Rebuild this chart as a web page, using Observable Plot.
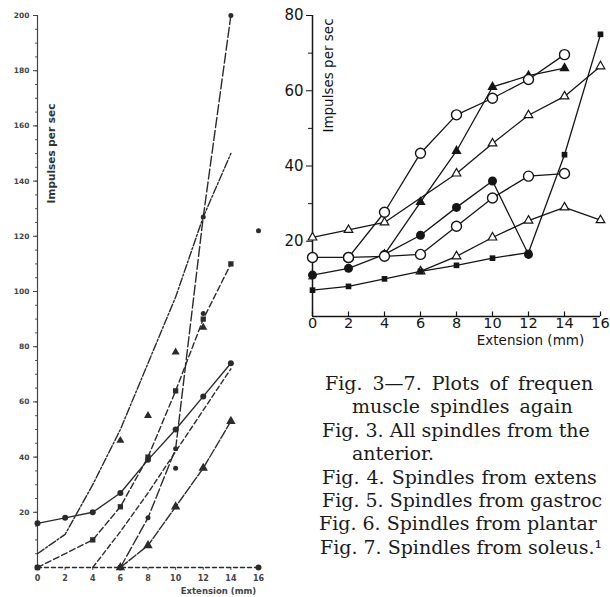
<!DOCTYPE html>
<html><head><meta charset="utf-8">
<script src="https://cdn.jsdelivr.net/npm/d3@7"></script>
<script src="https://cdn.jsdelivr.net/npm/@observablehq/plot@0.6"></script>
<style>
html,body{margin:0;padding:0;background:#fff;width:610px;height:597px;overflow:hidden;}
#left{position:absolute;left:0;top:0;width:280px;height:597px;}
#right{position:absolute;left:280px;top:0;width:330px;height:352px;}
#caption{position:absolute;left:319px;top:372px;font-family:"DejaVu Serif",serif;font-size:19px;line-height:23.4px;color:#1b1b1b;white-space:nowrap;}
#caption div{white-space:nowrap;}
</style></head><body>
<div id="left"></div><div id="right"></div>
<div id="caption"></div>
<script>
// ---------- Fig. 3 (left panel): extension (mm) vs impulses per sec ----------
const f3aX = [0, 2, 4, 6, 8, 10, 12, 14];
const f3aY = [16, 18, 20, 27, 39, 50, 62, 74];
const f3bX = [0, 4, 6, 8, 10, 12, 14];
const f3bY = [0, 10, 22, 40, 64, 90, 110];
const f3cX = [0, 2, 4, 6, 8, 10, 12, 14];
const f3cY = [5, 12, 30, 50, 74, 98, 127, 150];
const f3dX = [6, 8, 10, 12, 14];
const f3dY = [0, 18, 43, 127, 200];
const f3eX = [6, 8, 10, 12, 14];
const f3eY = [0, 8, 22, 36, 53];
const f3fX = [4, 6, 8, 10, 12, 14];
const f3fY = [0, 13, 27, 42, 57, 72];
const f3gX = [0, 6, 16];
const f3gY = [0, 0, 0];
const f3TriX = [6, 8, 10, 12];
const f3TriY = [46, 55, 78, 87];
const f3DotX = [10, 12, 16];
const f3DotY = [36, 92, 122];
const f3YTicks = [20, 40, 60, 80, 100, 120, 140, 160, 180, 200];
const f3YMinor = d3.range(0, 201, 5);
const f3XTicks = [0, 2, 4, 6, 8, 10, 12, 14, 16];

// ---------- Fig. 4 (right panel) ----------
const f4t1X = [0, 2, 4, 8, 10, 12, 14, 16];
const f4t1Y = [21, 23, 25, 38, 46, 53.5, 58.5, 66.5];
const f4c1X = [2, 4, 6, 8, 10, 12, 14];
const f4c1Y = [15.7, 27.7, 43.4, 53.6, 58, 63, 69.6];
const f4c2X = [0, 2, 4, 6, 8, 10, 12, 14];
const f4c2Y = [15.7, 15.7, 16, 16.5, 24, 31.5, 37.3, 38];
const f4f1X = [0, 2, 4, 6, 8, 10, 12];
const f4f1Y = [11, 12.8, 16.5, 21.6, 29, 36, 16.5];
const f4t2X = [4, 6, 8, 10, 12, 14];
const f4t2Y = [16.5, 30.4, 44, 61, 64, 66];
const f4qX = [0, 2, 4, 6, 8, 10, 12, 14, 16];
const f4qY = [7, 8, 10, 12, 13.6, 15.5, 17, 43, 75];
const f4t3X = [6, 8, 10, 12, 14, 16];
const f4t3Y = [12, 16, 21, 25.5, 29, 25.6];
const f4YTicks = [20, 40, 60, 80];
const f4YMinor = [10, 30, 50, 70];
const f4XTicks = [0, 2, 4, 6, 8, 10, 12, 14, 16];

const captionLines = [
  "Fig. 3—7. Plots of frequen",
  "muscle spindles again",
  "Fig. 3. All spindles from the",
  "anterior.",
  "Fig. 4. Spindles from extens",
  "Fig. 5. Spindles from gastroc",
  "Fig. 6. Spindles from plantar",
  "Fig. 7. Spindles from soleus.¹"
];

const pts = (xs, ys) => xs.map((x, i) => ({x, y: ys[i]}));

// ----- left chart -----
const LC = "#2b2b2b";
const leftSeries = [
  {d: pts(f3aX, f3aY), dash: null},
  {d: pts(f3bX, f3bY), dash: "6,3"},
  {d: pts(f3cX, f3cY), dash: "8,2,2,2"},
  {d: pts(f3dX, f3dY), dash: "10,3"},
  {d: pts(f3eX, f3eY), dash: "9,2"},
  {d: pts(f3fX, f3fY), dash: "5,3"},
  {d: pts(f3gX, f3gY), dash: "4,3"}
];
const leftMarks = [];
leftMarks.push(Plot.ruleX([0], {y1: 0, y2: 200, stroke: "#444", strokeWidth: 1.2}));
leftMarks.push(Plot.axisY({ticks: f3YMinor, tickSize: 2, tickFormat: () => "", stroke: "#555", label: null}));
leftMarks.push(Plot.axisY({ticks: f3YTicks, tickSize: 4, tickPadding: 4, fontSize: 7.5, fontWeight: "bold", fill: "#444", stroke: "#444", label: null}));
leftMarks.push(Plot.axisX({ticks: f3XTicks, tickSize: 3, tickPadding: 5, fontSize: 8, fontWeight: "bold", fill: "#444", stroke: "#444", label: null}));
for (const s of leftSeries) {
  leftMarks.push(Plot.line(s.d, {x: "x", y: "y", stroke: LC, strokeWidth: 1.4, strokeDasharray: s.dash}));
}
leftMarks.push(Plot.dot(pts(f3aX, f3aY), {x: "x", y: "y", r: 3, fill: LC}));
leftMarks.push(Plot.dot(pts(f3bX, f3bY), {x: "x", y: "y", r: 3, fill: LC, symbol: "square"}));
leftMarks.push(Plot.dot(pts(f3eX, f3eY), {x: "x", y: "y", r: 3.5, fill: LC, symbol: "triangle"}));
leftMarks.push(Plot.dot(pts(f3dX, f3dY), {x: "x", y: "y", r: 2.5, fill: LC}));
leftMarks.push(Plot.dot(pts(f3gX, f3gY), {x: "x", y: "y", r: 3, fill: LC}));
leftMarks.push(Plot.dot(pts(f3TriX, f3TriY), {x: "x", y: "y", r: 3, fill: LC, symbol: "triangle"}));
leftMarks.push(Plot.dot(pts(f3DotX, f3DotY), {x: "x", y: "y", r: 2.5, fill: LC}));
leftMarks.push(Plot.text(["Impulses per sec"], {frameAnchor: "top-left", dx: 14, dy: 138, rotate: -90, textAnchor: "middle", lineAnchor: "middle", fontSize: 10.5, fontWeight: "bold", fill: "#333"}));
leftMarks.push(Plot.text(["Extension (mm)"], {frameAnchor: "bottom-left", dx: 181, dy: 24, textAnchor: "middle", lineAnchor: "middle", fontSize: 8.5, fontWeight: "bold", fill: "#444"}));

const left = Plot.plot({
  width: 280, height: 597,
  marginLeft: 37, marginRight: 22, marginTop: 15, marginBottom: 30,
  x: {domain: [0, 16]}, y: {domain: [0, 200]},
  style: {fontFamily: "DejaVu Sans", background: "transparent", overflow: "visible", maxWidth: "none"},
  marks: leftMarks
});
document.getElementById("left").append(left);

// ----- right chart -----
const RC = "#151515";
const rightMarks = [];
rightMarks.push(Plot.ruleX([0], {y1: 0, y2: 80, stroke: RC, strokeWidth: 1.5}));
rightMarks.push(Plot.ruleY([0], {x1: 0, x2: 16, stroke: RC, strokeWidth: 1.5}));
rightMarks.push(Plot.axisY({ticks: f4YMinor, tickSize: 4, tickFormat: () => "", stroke: RC, label: null}));
rightMarks.push(Plot.axisY({ticks: f4YTicks, tickSize: 6, tickPadding: 3, fontSize: 15, fill: RC, stroke: RC, label: null}));
rightMarks.push(Plot.axisX({ticks: f4XTicks, tickSize: 0, tickPadding: 1, fontSize: 14.5, fill: RC, label: null}));
rightMarks.push(Plot.ruleX(f4XTicks, {y1: 0, y2: 1.2, stroke: RC, strokeWidth: 1.2}));
const rightLines = [f4t1X, f4c1X, f4c2X, f4f1X, f4t2X, f4qX, f4t3X];
const rightVals = [f4t1Y, f4c1Y, f4c2Y, f4f1Y, f4t2Y, f4qY, f4t3Y];
rightLines.forEach((xs, i) => {
  rightMarks.push(Plot.line(pts(xs, rightVals[i]), {x: "x", y: "y", stroke: RC, strokeWidth: 1.3}));
});
rightMarks.push(Plot.dot(pts(f4t1X, f4t1Y), {x: "x", y: "y", r: 3.2, symbol: "triangle", fill: "white", stroke: RC, strokeWidth: 1.2}));
rightMarks.push(Plot.dot(pts(f4t3X, f4t3Y), {x: "x", y: "y", r: 3.2, symbol: "triangle", fill: "white", stroke: RC, strokeWidth: 1.2}));
rightMarks.push(Plot.dot(pts(f4t2X, f4t2Y), {x: "x", y: "y", r: 3.8, symbol: "triangle", fill: RC}));
rightMarks.push(Plot.dot(pts(f4qX, f4qY), {x: "x", y: "y", r: 3.2, symbol: "square", fill: RC}));
rightMarks.push(Plot.dot(pts(f4f1X, f4f1Y), {x: "x", y: "y", r: 4.5, fill: RC}));
rightMarks.push(Plot.dot(pts(f4c2X, f4c2Y), {x: "x", y: "y", r: 5, fill: "white", stroke: RC, strokeWidth: 1.4}));
rightMarks.push(Plot.dot(pts(f4c1X, f4c1Y), {x: "x", y: "y", r: 5, fill: "white", stroke: RC, strokeWidth: 1.4}));
rightMarks.push(Plot.text(["Impulses per sec"], {frameAnchor: "top-left", dx: 16, dy: 60, rotate: -90, textAnchor: "middle", lineAnchor: "middle", fontSize: 13.5, fill: RC}));
rightMarks.push(Plot.text(["Extension (mm)"], {frameAnchor: "bottom-left", dx: 218, dy: 24, textAnchor: "middle", lineAnchor: "middle", fontSize: 13.5, fill: RC}));

const right = Plot.plot({
  width: 330, height: 352,
  marginLeft: 32, marginRight: 10, marginTop: 15, marginBottom: 36,
  x: {domain: [0, 16]}, y: {domain: [0, 80]},
  style: {fontFamily: "DejaVu Sans", background: "transparent", overflow: "visible", maxWidth: "none"},
  marks: rightMarks
});
document.getElementById("right").append(right);

// ----- caption -----
const indent = [6, 33, 3, 33, 3, 3, 0, 1];
const spacing = [4, 4, 0, 0, 1, 0, 0, 0];
const cap = document.getElementById("caption");
captionLines.forEach((t, i) => {
  const d = document.createElement("div");
  d.textContent = t;
  d.style.paddingLeft = indent[i] + "px";
  d.style.wordSpacing = spacing[i] + "px";
  cap.append(d);
});
</script>
</body></html>
